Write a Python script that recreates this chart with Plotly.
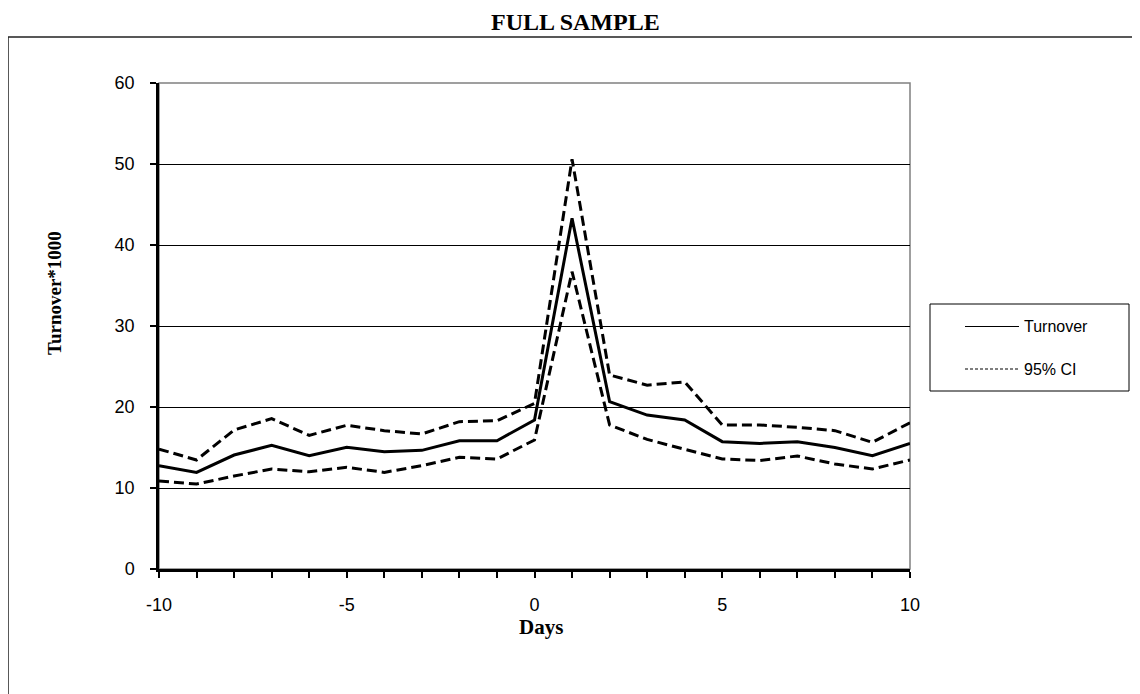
import plotly.graph_objects as go

days = list(range(-10, 11))
turnover = [12.75, 11.93, 14.07, 15.27, 13.99, 15.02, 14.48, 14.65, 15.84, 15.84, 18.4,
            43.3, 20.66, 19.0, 18.4, 15.72, 15.5, 15.72, 15.0, 14.0, 15.5]
ci_upper = [14.8, 13.46, 17.16, 18.56, 16.5, 17.74, 17.08, 16.67, 18.19, 18.3, 20.45,
            50.6, 23.95, 22.7, 23.1, 17.78, 17.78, 17.49, 17.08, 15.64, 18.06]
ci_lower = [10.86, 10.49, 11.48, 12.35, 12.0, 12.55, 11.93, 12.76, 13.79, 13.58, 15.93,
            36.7, 17.78, 16.0, 14.77, 13.58, 13.4, 13.95, 12.96, 12.35, 13.46]
x_ticks = [-10, -5, 0, 5, 10]
y_ticks = [0, 10, 20, 30, 40, 50, 60]
legend_labels = ["Turnover", "95% CI"]

OFF = 8  # page body margin
W, H = 1140 - OFF, 694 - OFF
L, R, T, B = 159, 910, 83, 569
PW, PH = R - L, B - T


def px(x):
    return (x - L) / PW


def py(y):
    return (B - y) / PH


fig = go.Figure()
fig.add_trace(go.Scatter(x=days, y=ci_upper, mode="lines", name=legend_labels[1],
                         line=dict(color="black", width=3, dash="10px,5px"), showlegend=False))
fig.add_trace(go.Scatter(x=days, y=ci_lower, mode="lines", name=legend_labels[1],
                         line=dict(color="black", width=3, dash="10px,5px"), showlegend=False))
fig.add_trace(go.Scatter(x=days, y=turnover, mode="lines", name=legend_labels[0],
                         line=dict(color="black", width=3), showlegend=False))

shapes = []
shapes.append(dict(type="rect", xref="paper", yref="paper", x0=0, x1=1, y0=0, y1=1,
                   line=dict(color="#808080", width=1.5), layer="below"))
shapes.append(dict(type="rect", xref="paper", yref="paper", x0=px(8), x1=px(1160),
                   y0=py(720), y1=py(37), line=dict(color="#222", width=1.5)))
shapes.append(dict(type="rect", xref="paper", yref="paper", x0=px(930), x1=px(1129),
                   y0=py(391), y1=py(304), line=dict(color="black", width=1),
                   fillcolor="white"))
shapes.append(dict(type="line", xref="paper", yref="paper", x0=px(965), x1=px(1019),
                   y0=py(326.5), y1=py(326.5), line=dict(color="black", width=1.2)))
shapes.append(dict(type="line", xref="paper", yref="paper", x0=px(965), x1=px(1019),
                   y0=py(369), y1=py(369), line=dict(color="black", width=1.2, dash="3px,2px")))

annotations = [
    dict(text="<b>FULL SAMPLE</b>", xref="paper", yref="paper", x=px(575), y=py(OFF),
         showarrow=False, font=dict(family="Liberation Serif", size=24, color="black"),
         xanchor="center", yanchor="top", borderpad=0),
    dict(text="<b>Turnover*1000</b>", xref="paper", yref="paper", x=px(54), y=py(293),
         showarrow=False, textangle=-90,
         font=dict(family="Liberation Serif", size=19, color="black"),
         xanchor="center", yanchor="middle"),
    dict(text="<b>Days</b>", xref="paper", yref="paper", x=px(541), y=py(627),
         showarrow=False, font=dict(family="Liberation Serif", size=21, color="black"),
         xanchor="center", yanchor="middle"),
    dict(text=legend_labels[0], xref="paper", yref="paper", x=px(1022), y=py(326.5),
         showarrow=False, font=dict(family="Liberation Sans", size=16, color="black"),
         xanchor="left", yanchor="middle"),
    dict(text=legend_labels[1], xref="paper", yref="paper", x=px(1022), y=py(369),
         showarrow=False, font=dict(family="Liberation Sans", size=16, color="black"),
         xanchor="left", yanchor="middle"),
]

fig.update_layout(
    width=W, height=H,
    margin=dict(l=L - OFF, r=W - (R - OFF), t=T - OFF, b=H - (B - OFF), pad=0),
    paper_bgcolor="white", plot_bgcolor="white",
    showlegend=False,
    shapes=shapes,
    annotations=annotations,
    font=dict(family="Liberation Sans", size=18, color="black"),
)
fig.update_xaxes(
    range=[-10, 10], tickvals=x_ticks, ticktext=[str(v) for v in x_ticks],
    showgrid=False, zeroline=False,
    showline=True, linecolor="black", linewidth=2.5,
    ticks="outside", ticklen=6, tickwidth=1.5, tickcolor="black",
    minor=dict(dtick=1, tick0=0, ticks="outside", ticklen=6, tickwidth=1.5, tickcolor="black",
               showgrid=False),
    ticklabelstandoff=12,
    tickfont=dict(family="Liberation Sans", size=18, color="black"),
)
fig.update_yaxes(
    range=[0, 60], tickvals=y_ticks, ticktext=[str(v) for v in y_ticks],
    showgrid=True, gridcolor="black", gridwidth=1.2, zeroline=False,
    showline=True, linecolor="black", linewidth=2.5,
    ticks="outside", ticklen=6, tickwidth=1.5, tickcolor="black",
    ticklabelstandoff=12,
    tickfont=dict(family="Liberation Sans", size=18, color="black"),
)

fig.write_html("out.html")
